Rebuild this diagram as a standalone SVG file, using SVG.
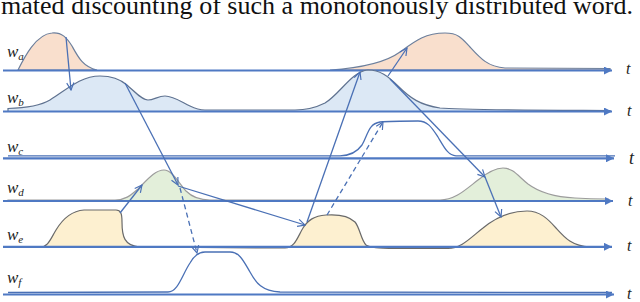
<svg xmlns="http://www.w3.org/2000/svg" width="640" height="302" viewBox="0 0 640 302">
<defs>
<style>
.title{font-family:"Liberation Serif","Times New Roman",serif;font-size:26px;fill:#111}
.lbl{font-family:"Liberation Serif","Times New Roman",serif;font-style:italic;font-size:17px;fill:#222}
.sub{font-size:11px}
.tl{font-family:"Liberation Serif","Times New Roman",serif;font-style:italic;font-size:16px;fill:#222}
.axis{stroke:#4f79c3;stroke-width:2.2;fill:none}
.conn{stroke:#4a70b5;stroke-width:1.3;fill:none}
.dash{stroke-dasharray:5 3.5}
.peach{fill:#f9dfcd;stroke:#6c7f9c;stroke-width:1.2}
.blue{fill:#dce8f5;stroke:#5f7290;stroke-width:1.2}
.green{fill:#e3efda;stroke:#9c9c9c;stroke-width:1.2}
.yellow{fill:#fdf0d0;stroke:#6a6a6a;stroke-width:1.2}
.line{fill:none;stroke:#4a70b5;stroke-width:1.3}
</style>
<marker id="tri" viewBox="0 0 10 10" refX="10" refY="5" markerWidth="9" markerHeight="8" markerUnits="userSpaceOnUse" orient="auto">
<path d="M0,0 L10,5 L0,10 Z" fill="#4f79c3"/>
</marker>
<marker id="v" viewBox="0 0 10 10" refX="9" refY="5" markerWidth="9" markerHeight="9" markerUnits="userSpaceOnUse" orient="auto">
<path d="M1,1 L9,5 L1,9" fill="none" stroke="#4a70b5" stroke-width="1.3"/>
</marker>
</defs>
<rect width="640" height="302" fill="#ffffff"/>
<text class="title" x="1" y="14" textLength="632" lengthAdjust="spacing">mated discounting of such a monotonously distributed word.</text>

<g id="node-wa">
<path class="peach" d="M18,70 C24,58 36,34 52,33 C62,32 67,38 72,46 C78,57 83,67 97,70 Z"/>
<path class="peach" d="M330,70 C360,68 385,63 400,52 C415,41 425,33 445,33 C458,33 462,38 470,47 C480,58 488,67 505,68 L610,68.5 L610,70 Z"/>
<line class="axis" x1="3" y1="70.5" x2="612" y2="70.5" marker-end="url(#tri)"/>
<text class="lbl" x="7" y="57">w<tspan class="sub" dy="3">a</tspan></text>
<text class="tl" x="626" y="74">t</text>
</g>

<g id="node-wb">
<path class="blue" d="M8,108.5 C25,108 40,106 50,100 C65,91 80,76 100,76 C112,76 120,79 127,85 C135,92 142,100 148,100 C154,100 158,96 165,96 C173,96 180,101 190,106 C194,108 198,110 205,110 L295,110 C305,110 315,108 325,103 C340,94 352,71 368,70 C380,70 388,76 398,86 C410,98 420,105 440,108 C460,110 500,110 610,110.5 L610,111.5 L8,111.5 Z"/>
<line class="axis" x1="3" y1="111.5" x2="612" y2="111.5" marker-end="url(#tri)"/>
<text class="lbl" x="7" y="103">w<tspan class="sub" dy="3">b</tspan></text>
<text class="tl" x="627" y="116">t</text>
</g>

<g id="node-wc">
<path class="line" d="M8,155.8 L340,155.8 C350,155.8 357,152 362,145 C368,135 368,124 380,122 C390,121 410,121 418,121 C428,121 432,128 438,137 C444,147 448,155.5 456,155.8 L615,155.8"/>
<line class="axis" x1="3" y1="158.3" x2="614" y2="158.3" marker-end="url(#tri)"/>
<text class="lbl" x="7" y="152">w<tspan class="sub" dy="3">c</tspan></text>
<text class="tl" x="629" y="164" style="font-size:18px">t</text>
</g>

<g id="node-wd">
<path class="green" d="M8,200 L115,200 C125,200 130,196 138,189 C147,180 155,170 164,170 C172,170 178,182 186,191 C192,197 200,200 210,200 L440,200 C455,200 465,190 478,180 C488,172 495,168 503,168 C513,168 518,176 528,184 C540,193 555,197 575,198 C590,199 600,199 608,199 L608,201 L8,201 Z"/>
<line class="axis" x1="3" y1="201" x2="613" y2="201" marker-end="url(#tri)"/>
<text class="lbl" x="7" y="193">w<tspan class="sub" dy="3">d</tspan></text>
<text class="tl" x="628" y="206">t</text>
</g>

<g id="node-we">
<path class="yellow" d="M8,247 L40,247 C48,247 50,240 56,230 C62,220 70,211 84,210 L116,210 C121,210 122,214 122,222 C122,236 124,246 140,247 L285,248 C295,248 298,236 303,228 C308,220 314,216 326,215 C340,214 350,217 355,222 C360,228 361,240 366,245 C370,248 380,248 400,248.5 L448,248.5 C462,248 470,238 483,228 C495,218 510,211 527,211 C540,211 548,219 556,228 C565,238 572,246 590,247 L607,247"/>
<line class="axis" x1="3" y1="246.8" x2="612" y2="246.8" marker-end="url(#tri)"/>
<text class="lbl" x="7" y="240">w<tspan class="sub" dy="3">e</tspan></text>
<text class="tl" x="627" y="251">t</text>
</g>

<g id="node-wf">
<path class="line" d="M8,292.5 L168,292 C178,292 182,275 190,263 C194,256 198,252 205,252 L230,252 C240,252 244,262 250,272 C256,283 262,291 280,292 L612,292.5"/>
<line class="axis" x1="3" y1="294.5" x2="614" y2="294.5" marker-end="url(#tri)"/>
<text class="lbl" x="7" y="283">w<tspan class="sub" dy="3">f</tspan></text>
<text class="tl" x="627" y="299">t</text>
</g>

<g id="connectors">
<line class="conn" x1="66" y1="37" x2="71" y2="90" marker-end="url(#v)"/>
<line class="conn" x1="125" y1="83" x2="178" y2="185" marker-end="url(#v)"/>
<line class="conn" x1="178" y1="186" x2="305" y2="225" marker-end="url(#v)"/>
<line class="conn dash" x1="180" y1="188" x2="197" y2="253" marker-end="url(#v)"/>
<line class="conn" x1="120" y1="213" x2="142" y2="185" marker-end="url(#v)"/>
<line class="conn" x1="307" y1="222" x2="360" y2="72" marker-end="url(#v)"/>
<line class="conn dash" x1="327" y1="215" x2="383" y2="122" marker-end="url(#v)"/>
<line class="conn" x1="388" y1="76" x2="407" y2="48" marker-end="url(#v)"/>
<line class="conn" x1="390" y1="79" x2="485" y2="177" marker-end="url(#v)"/>
<line class="conn" x1="485" y1="177" x2="501" y2="217" marker-end="url(#v)"/>
</g>
</svg>
